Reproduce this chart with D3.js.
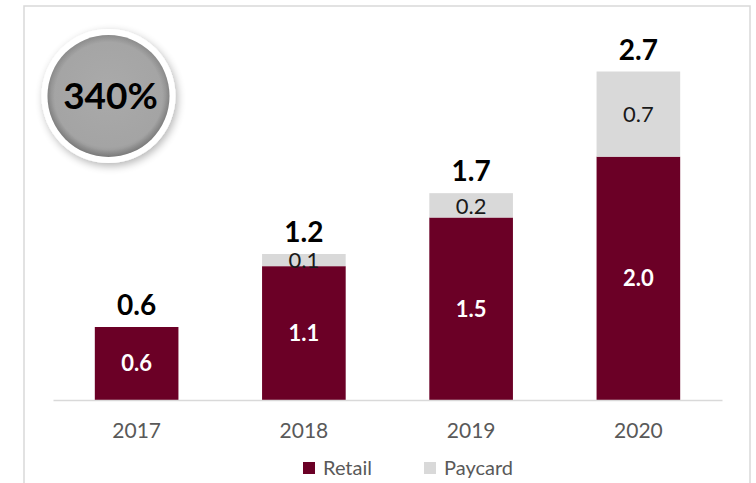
<!DOCTYPE html>
<html>
<head>
<meta charset="utf-8">
<script src="https://cdn.jsdelivr.net/npm/d3@7/dist/d3.min.js"></script>
<style>
  html, body { margin: 0; padding: 0; background: #fff; }
  svg { display: block; font-family: Lato, "Open Sans", sans-serif; }
</style>
</head>
<body>
<svg id="chart" width="756" height="483"></svg>
<script>
// Card volumes by year (stacked: Retail + Paycard)
const years   = ["2017", "2018", "2019", "2020"];
const retail  = [0.6, 1.1, 1.5, 2.0];
const paycard = [0, 0.1, 0.2, 0.7];
const seriesNames = ["Retail", "Paycard"];
const growthLabel = "340%";

const colors = { Retail: "#6b0026", Paycard: "#d9d9d9" };

const svg = d3.select("#chart");
const W = 756, H = 483;

const rows = years.map((y, i) => ({ year: y, Retail: retail[i], Paycard: paycard[i] }));

const x = d3.scaleBand().domain(years).range([53, 722]).paddingInner(0.5).paddingOuter(0.25);
const y = d3.scaleLinear().domain([0, 3]).range([400, 35]);

// outer frame
svg.append("rect")
  .attr("x", 24).attr("y", 6).attr("width", 726).attr("height", H + 10)
  .attr("fill", "#fff").attr("stroke", "#d9d9d9").attr("stroke-width", 1.5);

// stacked bars
const stack = d3.stack().keys(seriesNames)(rows);
const layers = svg.append("g").selectAll("g").data(stack).join("g")
  .attr("fill", d => colors[d.key]);
layers.selectAll("rect")
  .data(d => d.filter(p => p[1] - p[0] > 0))
  .join("rect")
  .attr("x", d => x(d.data.year))
  .attr("width", x.bandwidth())
  .attr("y", d => y(d[1]))
  .attr("height", d => y(d[0]) - y(d[1]));

// x axis
const axis = svg.append("g")
  .attr("transform", "translate(0,400)")
  .call(d3.axisBottom(x).tickSizeInner(0).tickSizeOuter(0).tickPadding(23));
axis.select(".domain").attr("stroke", "#d9d9d9").attr("stroke-width", 1.5);
axis.selectAll("text")
  .attr("fill", "#595959")
  .style("font-family", "Lato, sans-serif")
  .style("font-size", "21px");

// segment labels
const fmt = d3.format(".1f");
svg.append("g").selectAll("text")
  .data(stack[0].filter(p => p[1] - p[0] > 0))
  .join("text")
  .attr("x", d => x(d.data.year) + x.bandwidth() / 2)
  .attr("y", d => (y(d[0]) + y(d[1])) / 2)
  .attr("dy", "0.36em")
  .attr("text-anchor", "middle")
  .attr("fill", "#fff")
  .attr("font-weight", "bold")
  .attr("font-size", 22)
  .text(d => fmt(d[1] - d[0]));

svg.append("g").selectAll("text")
  .data(stack[1].filter(p => p[1] - p[0] > 0))
  .join("text")
  .attr("x", d => x(d.data.year) + x.bandwidth() / 2)
  .attr("y", d => (y(d[0]) + y(d[1])) / 2)
  .attr("dy", "0.38em")
  .attr("text-anchor", "middle")
  .attr("fill", "#1a1a1a")
  .attr("font-size", 22)
  .text(d => fmt(d[1] - d[0]));

// totals above bars
svg.append("g").selectAll("text")
  .data(rows)
  .join("text")
  .attr("x", d => x(d.year) + x.bandwidth() / 2)
  .attr("y", d => y(d.Retail + d.Paycard) - 12)
  .attr("text-anchor", "middle")
  .attr("fill", "#000")
  .attr("font-weight", "bold")
  .attr("font-size", 28)
  .text(d => fmt(d.Retail + d.Paycard));

// legend
const legend = svg.append("g");
const legendPos = [303, 424];
seriesNames.forEach((name, i) => {
  const g = legend.append("g").attr("transform", `translate(${legendPos[i]},462)`);
  g.append("rect").attr("width", 12).attr("height", 12).attr("fill", colors[name]);
  g.append("text").attr("x", 20).attr("y", 13)
    .attr("fill", "#595959").attr("font-size", 20).text(name);
});

// growth badge
const defs = svg.append("defs");
const grad = defs.append("radialGradient").attr("id", "badgeFill")
  .attr("cx", "50%").attr("cy", "45%").attr("r", "55%");
grad.append("stop").attr("offset", "0%").attr("stop-color", "#aaaaaa");
grad.append("stop").attr("offset", "85%").attr("stop-color", "#a4a4a4");
grad.append("stop").attr("offset", "100%").attr("stop-color", "#8e8e8e");
const shadow = defs.append("filter").attr("id", "badgeShadow")
  .attr("x", "-30%").attr("y", "-30%").attr("width", "160%").attr("height", "160%");
shadow.append("feGaussianBlur").attr("in", "SourceAlpha").attr("stdDeviation", 4);
shadow.append("feOffset").attr("dx", 2).attr("dy", 3).attr("result", "b");
shadow.append("feComponentTransfer").append("feFuncA").attr("type", "linear").attr("slope", 0.3);
const merge = shadow.append("feMerge");
merge.append("feMergeNode");
merge.append("feMergeNode").attr("in", "SourceGraphic");

const rim = defs.append("radialGradient").attr("id", "innerRim")
  .attr("cx", "50%").attr("cy", "50%").attr("r", "50%");
rim.append("stop").attr("offset", "88%").attr("stop-color", "#000").attr("stop-opacity", 0);
rim.append("stop").attr("offset", "100%").attr("stop-color", "#000").attr("stop-opacity", 0.15);

const badge = svg.append("g").attr("transform", "translate(108.5,96)");
badge.append("circle").attr("r", 67).attr("fill", "#fff").attr("filter", "url(#badgeShadow)");
badge.append("circle").attr("r", 61).attr("fill", "url(#badgeFill)");
badge.append("circle").attr("r", 61).attr("fill", "url(#innerRim)");
badge.append("text").attr("x", 2).attr("y", 0).attr("dy", "0.36em")
  .attr("text-anchor", "middle").attr("font-weight", "bold").attr("font-size", 37)
  .attr("fill", "#000").text(growthLabel);
</script>
</body>
</html>
